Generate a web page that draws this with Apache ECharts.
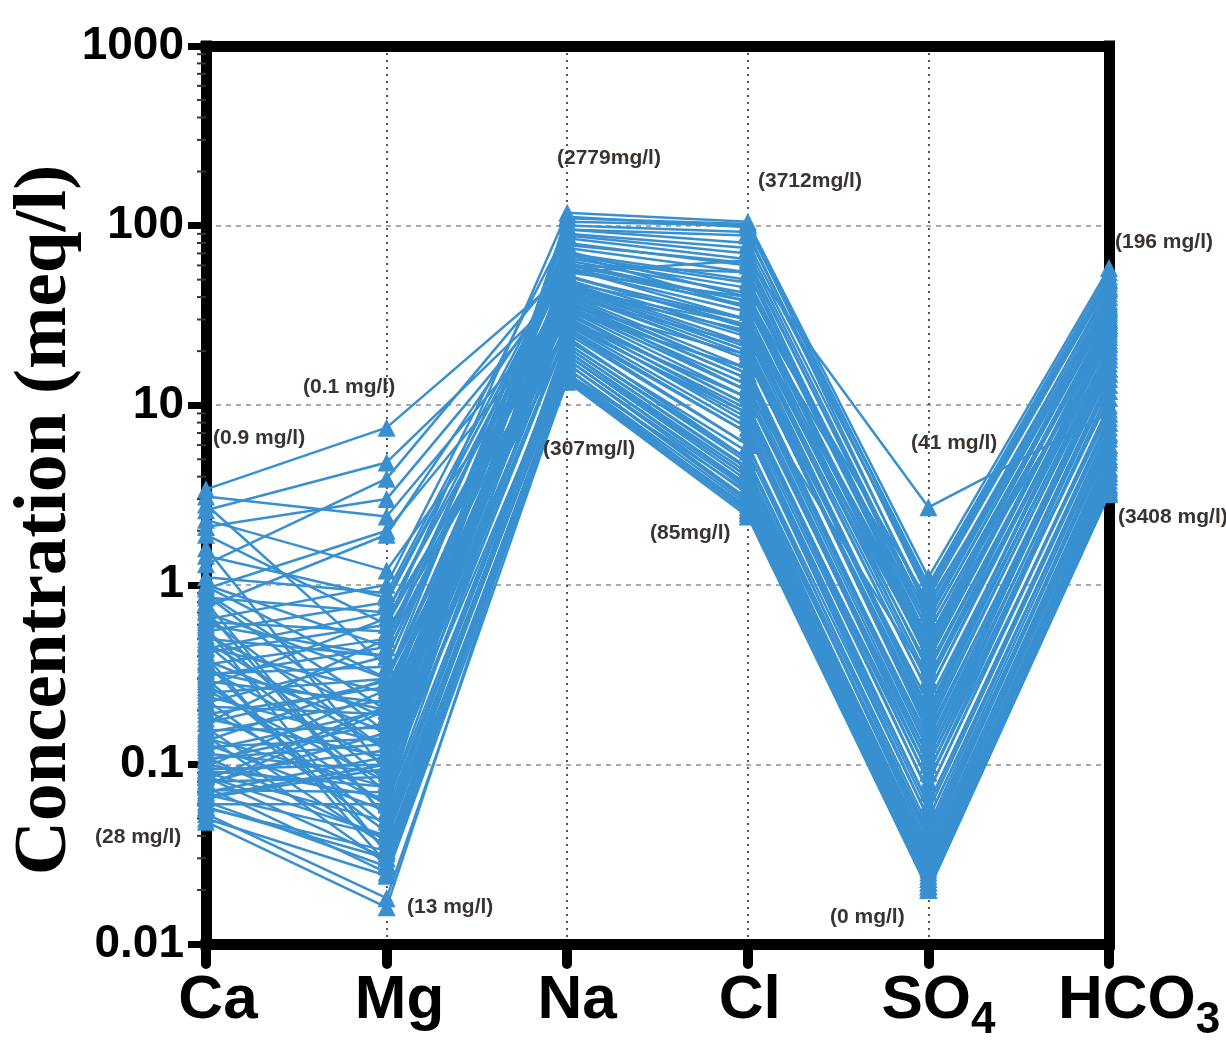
<!DOCTYPE html>
<html>
<head>
<meta charset="utf-8">
<script src="https://cdn.jsdelivr.net/npm/echarts@6/dist/echarts.min.js"></script>
<style>
html,body{margin:0;padding:0;background:#fff;}
#chart{width:1226px;height:1044px;}
</style>
</head>
<body>
<div id="chart"></div>
<script>
// ---- data (meq/l), one value per sample for each ion ----
const categories = ['Ca', 'Mg', 'Na', 'Cl', 'SO4', 'HCO3'];
const yTickLabels = ['0.01', '0.1', '1', '10', '100', '1000'];
const minorTickValues = [
  0.02, 0.03, 0.04, 0.05, 0.06, 0.07, 0.08, 0.09,
  0.2, 0.3, 0.4, 0.5, 0.6, 0.7, 0.8, 0.9,
  2, 3, 4, 5, 6, 7, 8, 9,
  20, 30, 40, 50, 60, 70, 80, 90,
  200, 300, 400, 500, 600, 700, 800, 900
];

const ca = [
  3.4, 3.1, 2.8, 2.6, 2.3, 1.9, 1.6, 1.3, 1.0, 0.95,
  0.9, 0.85, 0.8, 0.75, 0.7, 0.66, 0.62, 0.58, 0.55, 0.52,
  0.5, 0.47, 0.45, 0.42, 0.4, 0.38, 0.36, 0.34, 0.32, 0.3,
  0.29, 0.27, 0.26, 0.25, 0.24, 0.23, 0.22, 0.21, 0.2, 0.19,
  0.18, 0.17, 0.16, 0.155, 0.15, 0.14, 0.135, 0.13, 0.125, 0.12,
  0.115, 0.11, 0.105, 0.1, 0.097, 0.094, 0.09, 0.088, 0.085, 0.082,
  0.08, 0.078, 0.075, 0.072, 0.07, 0.068, 0.065, 0.062, 0.06, 0.057,
  0.053, 0.048,
  1.1, 0.98, 0.88, 0.72, 0.64, 0.6, 0.56, 0.48, 0.44, 0.37,
  0.33, 0.31, 0.28, 0.17, 0.145, 0.108, 0.092, 0.086, 0.076, 0.066,
  0.058, 2.1, 1.45, 0.05
];
const mg = [
  7.5, 2.4, 0.35, 4.8, 1.2, 0.6, 0.09, 3.9, 0.45, 2.0,
  0.2, 0.7, 0.05, 1.9, 0.3, 0.12, 0.55, 0.032, 0.8, 0.18,
  0.4, 0.07, 0.25, 0.6, 0.028, 0.15, 0.5, 0.1, 0.35, 0.045,
  0.22, 0.65, 0.08, 0.3, 0.13, 0.042, 0.4, 0.19, 0.06, 0.27,
  0.11, 0.5, 0.035, 0.16, 0.23, 0.075, 0.3, 0.055, 0.14, 0.2,
  0.09, 0.038, 0.17, 0.065, 0.26, 0.1, 0.048, 0.12, 0.03, 0.21,
  0.085, 0.15, 0.025, 0.07, 0.11, 0.04, 0.095, 0.027, 0.06, 0.033,
  0.018, 0.016,
  0.9, 0.3, 0.15, 0.05, 1.0, 0.4, 0.08, 0.12, 0.7, 0.033,
  0.2, 0.45, 0.06, 0.29, 0.028, 0.13, 0.075, 0.04, 0.2, 0.1,
  0.03, 3.0, 0.85, 0.024
];
const na = [
  55, 38, 72, 45, 30, 118, 26, 62, 40, 33,
  95, 48, 21, 58, 35, 112, 27, 16, 66, 42,
  50, 100, 24, 37, 14, 80, 44, 29, 70, 19,
  52, 31, 88, 23, 46, 17, 60, 34, 105, 28,
  41, 75, 15, 36, 57, 25, 90, 20, 48, 32,
  64, 18, 39, 110, 27, 53, 22, 43, 13.5, 68,
  30, 85, 16, 47, 35, 20, 58, 15, 38, 24,
  14, 18,
  70, 45, 33, 22, 95, 52, 19, 28, 60, 15,
  40, 78, 21, 55, 14.5, 36, 26, 17, 44, 30,
  16, 48, 62, 13.8
];
const cl = [
  64, 12, 40, 20, 8, 105, 6, 35, 15, 10,
  88, 22, 4.5, 30, 12, 98, 7, 3, 45, 18,
  25, 92, 5, 14, 2.5, 60, 19, 8.5, 50, 3.8,
  28, 9, 70, 5.5, 20, 3.2, 38, 11, 100, 7.5,
  16, 55, 2.8, 13, 33, 6, 75, 4, 24, 10,
  42, 3.5, 15, 102, 7, 27, 4.8, 18, 2.4, 48,
  9.5, 65, 3, 21, 12, 4.2, 36, 2.6, 14, 5,
  2.7, 3.6,
  35, 28, 16, 5, 80, 30, 4, 9, 55, 3.3,
  22, 62, 4.4, 40, 2.6, 19, 7, 3.4, 26, 11,
  2.9, 30, 38, 2.5
];
const so4 = [
  2.7, 0.3, 0.8, 0.15, 0.06, 1.1, 0.04, 0.5, 0.12, 0.08,
  0.9, 0.2, 0.03, 0.4, 0.1, 1.0, 0.05, 0.022, 0.6, 0.18,
  0.25, 0.7, 0.035, 0.14, 0.02, 0.45, 0.22, 0.07, 0.55, 0.028,
  0.35, 0.09, 0.65, 0.045, 0.16, 0.025, 0.38, 0.11, 0.85, 0.06,
  0.13, 0.5, 0.021, 0.1, 0.3, 0.05, 0.75, 0.032, 0.2, 0.08,
  0.42, 0.027, 0.12, 0.95, 0.055, 0.28, 0.038, 0.17, 0.02, 0.48,
  0.07, 0.6, 0.024, 0.19, 0.09, 0.033, 0.33, 0.021, 0.11, 0.042,
  0.023, 0.03,
  0.7, 0.4, 0.12, 0.035, 0.95, 0.3, 0.03, 0.08, 0.55, 0.022,
  0.2, 0.65, 0.04, 0.4, 0.02, 0.15, 0.06, 0.026, 0.25, 0.1,
  0.023, 0.5, 0.45, 0.021
];
const hco3 = [
  9, 22, 35, 15, 8, 58, 6, 28, 18, 12,
  50, 25, 5, 30, 14, 55, 7, 4, 38, 20,
  26, 45, 6.5, 17, 3.3, 40, 21, 9.5, 33, 4.5,
  27, 11, 42, 7.5, 19, 4, 31, 13, 48, 8.5,
  16, 36, 3.6, 14, 29, 7, 44, 5.5, 23, 12,
  32, 4.8, 15, 52, 8, 24, 6, 18, 3.2, 34,
  10, 40, 4.2, 20, 13, 5.2, 28, 3.5, 16, 6.8,
  3.8, 4.4,
  37, 30, 16, 6, 50, 27, 5, 9, 35, 3.4,
  19, 46, 5.8, 30, 3.3, 15, 8, 4.2, 24, 11,
  3.6, 22, 28, 3.2
];

// annotation texts
const annotations = [
  {text: '(0.9 mg/l)', x: 213, y: 438},
  {text: '(0.1 mg/l)', x: 303, y: 387},
  {text: '(28 mg/l)', x: 95, y: 837},
  {text: '(13 mg/l)', x: 407, y: 907},
  {text: '(2779mg/l)', x: 557, y: 158},
  {text: '(307mg/l)', x: 543, y: 449},
  {text: '(3712mg/l)', x: 758, y: 181},
  {text: '(85mg/l)', x: 650, y: 533},
  {text: '(41 mg/l)', x: 911, y: 443},
  {text: '(0 mg/l)', x: 830, y: 917},
  {text: '(196 mg/l)', x: 1115, y: 242},
  {text: '(3408 mg/l)', x: 1118, y: 517}
];

// ---- chart ----
const BLUE = '#3990d0';
const chart = echarts.init(document.getElementById('chart'), null, {renderer: 'canvas'});

const series = [];
for (let i = 0; i < ca.length; i++) {
  series.push({
    type: 'line',
    data: [ca[i], mg[i], na[i], cl[i], so4[i], hco3[i]],
    symbol: 'triangle',
    symbolSize: 18,
    showAllSymbol: true,
    itemStyle: {color: BLUE},
    lineStyle: {color: BLUE, width: 2.5},
    clip: false,
    silent: true,
    z: 3
  });
}
series.push({
  type: 'custom',
  coordinateSystem: 'cartesian2d',
  data: minorTickValues.map(v => [0, v]),
  clip: false,
  silent: true,
  z: 1,
  renderItem: function (params, api) {
    const p = api.coord([0, api.value(1)]);
    return {
      type: 'line',
      shape: {x1: p[0] - 9, y1: p[1], x2: p[0], y2: p[1]},
      style: {stroke: '#333', lineWidth: 2}
    };
  }
});

const xLabelMap = {
  'Ca': '{ca|Ca}', 'Mg': '{mg|Mg}', 'Na': '{na|Na}', 'Cl': '{cl|Cl}',
  'SO4': '{so|SO}{s|4}', 'HCO3': '{hc|HCO}{s|3}'
};
const bigFont = {fontSize: 62, lineHeight: 84, fontWeight: 'bold', fontFamily: 'Liberation Sans', color: '#000'};
const yLabelMap = {};
yTickLabels.forEach(t => { yLabelMap[parseFloat(t)] = t; });

const option = {
  animation: false,
  backgroundColor: '#fff',
  grid: {left: 206, right: 117, top: 46, bottom: 100, containLabel: false, outerBoundsMode: 'none'},
  xAxis: [{
    type: 'category',
    data: categories,
    boundaryGap: false,
    axisLine: {lineStyle: {color: '#000', width: 11, cap: 'square'}},
    axisTick: {show: true, length: 20, inside: false, alignWithLabel: true,
      lineStyle: {color: '#000', width: 10, cap: 'round'}},
    axisLabel: {
      margin: 15,
      formatter: v => xLabelMap[v],
      rich: {
        ca: Object.assign({padding: [0, 0, 0, 24]}, bigFont),
        mg: Object.assign({padding: [0, 0, 0, 26]}, bigFont),
        na: Object.assign({padding: [0, 0, 0, 20]}, bigFont),
        cl: Object.assign({padding: [0, 0, 0, 4]}, bigFont),
        so: Object.assign({padding: [0, 0, 0, 20]}, bigFont),
        hc: Object.assign({padding: [0, 0, 0, 60]}, bigFont),
        s: {fontSize: 44, lineHeight: 44, fontWeight: 'bold', fontFamily: 'Liberation Sans', color: '#000', padding: [40, 0, 0, 0]}
      }
    },
    splitLine: {show: true, lineStyle: {color: '#555', width: 2, type: [2, 5]}}
  }, {
    type: 'category',
    data: categories,
    boundaryGap: false,
    position: 'top',
    axisLine: {lineStyle: {color: '#000', width: 11, cap: 'square'}},
    axisTick: {show: false},
    axisLabel: {show: false},
    splitLine: {show: false}
  }],
  yAxis: [{
    type: 'log',
    logBase: 10,
    min: 0.01,
    max: 1000,
    axisLine: {show: true, lineStyle: {color: '#000', width: 11, cap: 'square'}},
    axisTick: {show: true, length: 18, inside: false, lineStyle: {color: '#000', width: 7}},
    axisLabel: {
      margin: 22,
      fontSize: 46,
      fontWeight: 'bold',
      fontFamily: 'Liberation Sans',
      color: '#000',
      formatter: v => {
        const k = Object.keys(yLabelMap).find(key => Math.abs(Math.log10(parseFloat(key)) - Math.log10(v)) < 1e-6);
        return k !== undefined ? yLabelMap[k] : '';
      }
    },
    splitLine: {show: true, lineStyle: {color: '#aaa', width: 2, type: [5, 5]}},
    minorTick: {show: false}
  }, {
    type: 'log',
    logBase: 10,
    min: 0.01,
    max: 1000,
    position: 'right',
    axisLine: {show: true, lineStyle: {color: '#000', width: 11, cap: 'square'}},
    axisTick: {show: false},
    axisLabel: {show: false},
    splitLine: {show: false}
  }],
  graphic: [
    {
      type: 'text',
      x: 46, y: 520,
      rotation: Math.PI / 2,
      style: {
        text: 'Concentration (meq/l)',
        font: 'bold 75px "Liberation Serif"',
        fill: '#000',
        textAlign: 'center',
        textVerticalAlign: 'middle'
      }
    }
  ].concat(annotations.map(a => ({
    type: 'text',
    x: a.x, y: a.y,
    z: 10,
    style: {
      text: a.text,
      font: 'bold 21px "Liberation Sans"',
      fill: '#3a3330',
      textAlign: 'left',
      textVerticalAlign: 'middle'
    }
  }))),
  series: series
};
chart.setOption(option);
</script>
</body>
</html>
